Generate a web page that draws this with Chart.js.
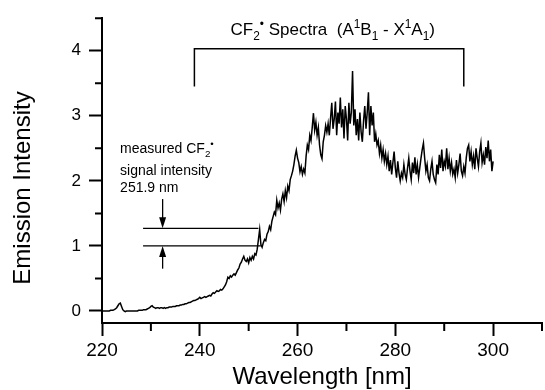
<!DOCTYPE html>
<html>
<head>
<meta charset="utf-8">
<script src="https://cdn.jsdelivr.net/npm/chart.js@4/dist/chart.umd.min.js"></script>
<style>
  body { margin: 0; background: #fff; }
</style>
</head>
<body>
<canvas id="spectrum" width="545" height="390"></canvas>
<script>
// emission spectrum, every 0.25 nm from 220 to 300 nm
const wavelengthStart = 220;
const wavelengthStep = 0.25;
const intensity = [
  0.00, 0.00, 0.00, 0.00,  0.00, 0.00, 0.00, 0.01,  0.01, 0.01, 0.02, 0.03,  0.05, 0.08, 0.11, 0.12, // 220-223
  0.07, 0.02, 0.00, -0.01, 0.00, 0.00, 0.00, 0.00,  0.00, 0.00, 0.00, 0.00,  0.00, 0.00, 0.01, 0.01, // 224-227
  0.01, 0.01, 0.02, 0.02,  0.02, 0.03, 0.04, 0.05,  0.07, 0.08, 0.06, 0.05,  0.04, 0.05, 0.05, 0.04, // 228-231
  0.05, 0.05, 0.04, 0.05,  0.04, 0.05, 0.05, 0.06,  0.06, 0.06, 0.07, 0.07,  0.07, 0.08, 0.08, 0.08, // 232-235
  0.09, 0.09, 0.10, 0.10,  0.11, 0.11, 0.12, 0.13,  0.13, 0.14, 0.15, 0.16,  0.16, 0.17, 0.18, 0.19, // 236-239
  0.21, 0.19, 0.20, 0.21,  0.22, 0.21, 0.22, 0.23,  0.24, 0.23, 0.26, 0.28,  0.27, 0.29, 0.31, 0.30, // 240-243
  0.31, 0.33, 0.32, 0.34,  0.37, 0.40, 0.45, 0.52,  0.50, 0.54, 0.52, 0.55,  0.57, 0.55, 0.59, 0.63, // 244-247
  0.66, 0.72, 0.75, 0.80,  0.84, 0.78, 0.76, 0.80,  0.74, 0.82, 0.78, 0.84,  0.80, 0.88, 0.86, 0.95, // 248-251
  1.10, 1.25, 1.02, 0.98,  1.05, 1.10, 1.08, 1.18,  1.22, 1.30, 1.25, 1.38,  1.45, 1.52, 1.48, 1.70, // 252-255
  1.58, 1.66, 1.55, 1.72,  1.80, 1.68, 1.85, 1.74,  1.92, 1.85, 2.02, 2.08,  2.15, 2.25, 2.38, 2.47, // 256-259
  2.35, 2.28, 2.14, 2.22,  2.10, 2.18, 2.12, 2.38,  2.55, 2.48, 2.70, 2.62,  2.82, 3.04, 2.78, 2.90, // 260-263
  2.70, 2.82, 2.55, 2.40,  2.34, 2.60, 2.70, 2.85,  2.75, 2.88, 2.70, 2.96,  3.20, 2.80, 2.95, 3.22, // 264-267
  2.70, 3.05, 2.88, 3.28,  2.82, 3.10, 2.65, 3.15,  2.95, 2.62, 3.20, 2.88,  3.05, 3.69, 2.85, 3.10, // 268-271
  2.70, 2.95, 2.62, 3.05,  2.75, 2.60, 2.92, 3.15,  2.80, 3.05, 3.36, 2.70,  3.15, 2.85, 3.05, 2.60, // 272-275
  2.72, 2.55, 2.62, 2.42,  2.55, 2.35, 2.48, 2.30,  2.42, 2.25, 2.38, 2.15,  2.32, 2.10, 2.28, 2.45, // 276-279
  2.20, 2.05, 2.30, 2.12,  2.00, 2.12, 2.05, 2.25,  2.10, 2.02, 2.20, 2.35,  2.15, 2.02, 2.28, 2.12, // 280-283
  2.36, 2.10, 2.25, 2.05,  2.20, 2.35, 2.48, 2.58,  2.35, 2.15, 2.25, 2.05,  2.00, 2.18, 2.30, 2.10, // 284-287
  2.02, 1.97, 2.25, 2.10,  2.40, 2.20, 2.48, 2.15,  2.30, 2.22, 2.50, 2.18,  2.35, 2.15, 2.28, 2.10, // 288-291
  2.18, 2.05, 2.32, 2.12,  2.25, 2.42, 2.15, 2.08,  2.22, 2.12, 2.35, 2.50,  2.55, 2.30, 2.45, 2.25, // 292-295
  2.38, 2.18, 2.50, 2.35,  2.22, 2.45, 2.58, 2.28,  2.40, 2.25, 2.52, 2.35,  2.62, 2.30, 2.48, 2.15, // 296-299
  2.30                                                                                               // 300
];
const wavelengths = intensity.map((v, i) => wavelengthStart + i * wavelengthStep);

const xTicks = [220, 240, 260, 280, 300];
const xMinorTicks = [230, 250, 270, 290, 310];
const yTicks = [0, 1, 2, 3, 4];
const yMinorTicks = [0.5, 1.5, 2.5, 3.5, 4.5];

// annotation text
const bandLabel = [['CF'], ['2', 'sub'], ['\u2022', 'sup'], [' Spectra  (A'], ['1', 'sup'], ['B'], ['1', 'sub'],
  [' - X'], ['1', 'sup'], ['A'], ['1', 'sub'], [')']];
const noteLines = [
  [['measured CF'], ['2', 'sub'], ['\u2022', 'sup']],
  [['signal intensity']],
  [['251.9 nm']]
];

const FONT = '"Liberation Sans", Arial, Helvetica, sans-serif';

function richWidth(ctx, parts, size) {
  let w = 0;
  parts.forEach(([t, k]) => {
    ctx.font = (k ? size * 0.7 : size) + 'px ' + FONT;
    w += ctx.measureText(t).width;
  });
  return w;
}

function drawRich(ctx, parts, x, y, size, align) {
  if (align === 'center') x -= richWidth(ctx, parts, size) / 2;
  ctx.textAlign = 'left';
  ctx.textBaseline = 'alphabetic';
  parts.forEach(([t, k]) => {
    let dy = 0;
    if (k === 'sub') dy = size * 0.28;
    if (k === 'sup') dy = -size * 0.4;
    ctx.font = (k ? size * 0.7 : size) + 'px ' + FONT;
    ctx.fillText(t, x, y + dy);
    x += ctx.measureText(t).width;
  });
}

function arrow(ctx, px, fromY, tipY) {
  const dir = Math.sign(tipY - fromY);
  ctx.beginPath();
  ctx.moveTo(px, fromY);
  ctx.lineTo(px, tipY - dir * 8);
  ctx.stroke();
  ctx.beginPath();
  ctx.moveTo(px, tipY);
  ctx.lineTo(px - 3.5, tipY - dir * 11);
  ctx.lineTo(px + 3.5, tipY - dir * 11);
  ctx.closePath();
  ctx.fill();
}

const annotate = {
  id: 'annotate',
  afterDraw(chart) {
    const {ctx, scales: {x, y}, chartArea} = chart;
    ctx.save();
    ctx.strokeStyle = '#000';
    ctx.fillStyle = '#000';

    // minor ticks
    ctx.lineWidth = 2;
    ctx.beginPath();
    yMinorTicks.forEach(v => {
      const py = y.getPixelForValue(v);
      ctx.moveTo(chartArea.left - 7, py);
      ctx.lineTo(chartArea.left, py);
    });
    xMinorTicks.forEach(v => {
      const px = x.getPixelForValue(v);
      ctx.moveTo(px, chartArea.bottom);
      ctx.lineTo(px, chartArea.bottom + 8);
    });
    ctx.stroke();

    // band bracket and its label
    ctx.lineWidth = 1.5;
    ctx.beginPath();
    ctx.moveTo(x.getPixelForValue(238.9), y.getPixelForValue(3.45));
    ctx.lineTo(x.getPixelForValue(238.9), y.getPixelForValue(4.03));
    ctx.lineTo(x.getPixelForValue(294.0), y.getPixelForValue(4.03));
    ctx.lineTo(x.getPixelForValue(294.0), y.getPixelForValue(3.45));
    ctx.stroke();
    drawRich(ctx, bandLabel, x.getPixelForValue(267.2), y.getPixelForValue(4.24), 17, 'center');

    // signal intensity note
    const noteX = x.getPixelForValue(223.7);
    [2.43, 2.09, 1.83].forEach((v, i) => drawRich(ctx, noteLines[i], noteX, y.getPixelForValue(v), 14, 'left'));

    ctx.lineWidth = 1.3;
    ctx.beginPath();
    ctx.moveTo(x.getPixelForValue(228.4), y.getPixelForValue(1.27));
    ctx.lineTo(x.getPixelForValue(252.0), y.getPixelForValue(1.27));
    ctx.moveTo(x.getPixelForValue(228.4), y.getPixelForValue(1.0));
    ctx.lineTo(x.getPixelForValue(252.5), y.getPixelForValue(1.0));
    ctx.stroke();
    const ax = x.getPixelForValue(232.4);
    arrow(ctx, ax, y.getPixelForValue(1.72), y.getPixelForValue(1.27));
    arrow(ctx, ax, y.getPixelForValue(0.65), y.getPixelForValue(1.0));

    // y axis title
    ctx.translate(23, 188);
    ctx.rotate(-Math.PI / 2);
    ctx.font = '24px ' + FONT;
    ctx.textAlign = 'center';
    ctx.textBaseline = 'middle';
    ctx.fillText('Emission Intensity', 0, 0);
    ctx.restore();
  }
};

new Chart(document.getElementById('spectrum'), {
  type: 'line',
  data: {
    datasets: [{
      data: wavelengths.map((w, i) => ({x: w, y: intensity[i]})),
      borderColor: '#000',
      borderWidth: 1.5,
      pointRadius: 0,
      tension: 0
    }]
  },
  options: {
    responsive: false,
    animation: false,
    layout: {padding: {top: 12, right: 3, left: 0, bottom: 0}},
    plugins: {legend: {display: false}, tooltip: {enabled: false}},
    scales: {
      x: {
        type: 'linear',
        min: 220,
        max: 310,
        afterBuildTicks: s => { s.ticks = xTicks.map(v => ({value: v})); },
        afterFit: s => { s.height = 67; },
        grid: {drawOnChartArea: false, tickLength: 13, tickWidth: 2, tickColor: '#000'},
        border: {color: '#000', width: 2},
        ticks: {color: '#000', font: {family: FONT, size: 19}, padding: 3, maxRotation: 0},
        title: {display: true, text: 'Wavelength [nm]', color: '#000',
          font: {family: FONT, size: 24, lineHeight: 1}, padding: {top: 0, bottom: 1}}
      },
      y: {
        min: -0.185,
        max: 4.5,
        afterBuildTicks: s => { s.ticks = yTicks.map(v => ({value: v})); },
        afterFit: s => { s.width = 102; },
        grid: {drawOnChartArea: false, tickLength: 13, tickWidth: 2, tickColor: '#000'},
        border: {color: '#000', width: 2},
        ticks: {color: '#000', font: {family: FONT, size: 17}, padding: 8}
      }
    }
  },
  plugins: [annotate]
});
</script>
</body>
</html>
